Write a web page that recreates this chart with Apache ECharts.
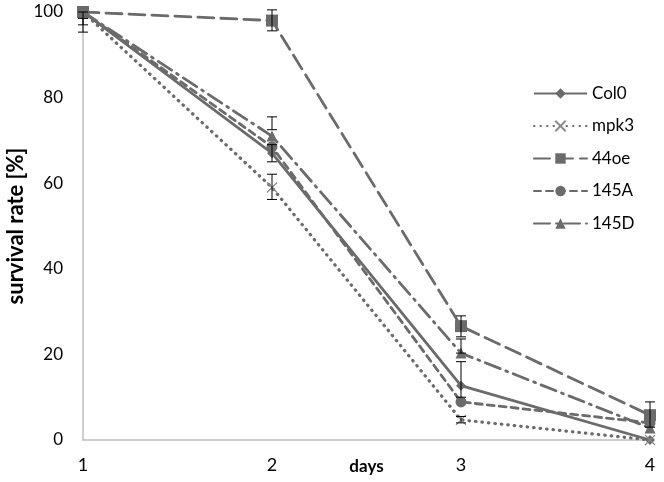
<!DOCTYPE html>
<html>
<head>
<meta charset="utf-8">
<script src="https://cdn.jsdelivr.net/npm/echarts@6/dist/echarts.min.js"></script>
<style>
  html, body { margin: 0; padding: 0; background: #fff; }
  #chart { width: 664px; height: 482px; }
</style>
</head>
<body>
<div id="chart"></div>
<script>
const days = [1, 2, 3, 4];
const col0 = [100, 67, 12.7, 0];
const mpk3 = [100, 59, 4.7, 0];
const oe44 = [100, 98, 26.6, 5.8];
const a145 = [100, 68.5, 8.9, 4];
const d145 = [100, 71, 20.3, 2.8];

// error bars: [day, low, high]
const errCol0 = [[1, 95.3, 100], [2, 65, 69], [3, 10, 18.3]];
const errMpk3 = [[1, 97, 98.5], [2, 56.2, 62.1], [3, 4, 5.5]];
const err44oe = [[2, 95.6, 100.5], [3, 24.1, 29], [4, 3, 8.9]];
const err145D = [[2, 72.5, 75.5], [3, 20.3, 23.6]];

const grey = '#6b6b6b';
const font = 'Lato, "Open Sans", sans-serif';

function lineSeries(name, values, symbol, size, dash, extra) {
  return Object.assign({
    name,
    type: 'line',
    data: days.map((d, i) => [d, values[i]]),
    symbol,
    symbolSize: size,
    showSymbol: true,
    lineStyle: { color: grey, width: 2.8, type: dash, cap: dash === 'solid' ? 'butt' : 'round' },
    itemStyle: { color: grey },
    z: 3,
  }, extra || {});
}

function errSeries(data) {
  return {
    type: 'custom',
    data,
    z: 4,
    renderItem(params, api) {
      const lo = api.coord([api.value(0), api.value(1)]);
      const hi = api.coord([api.value(0), api.value(2)]);
      const w = 5;
      const s = { stroke: '#000', lineWidth: 1 };
      return {
        type: 'group',
        children: [
          { type: 'line', shape: { x1: lo[0], y1: lo[1], x2: hi[0], y2: hi[1] }, style: s },
          { type: 'line', shape: { x1: lo[0] - w, y1: lo[1], x2: lo[0] + w, y2: lo[1] }, style: s },
          { type: 'line', shape: { x1: hi[0] - w, y1: hi[1], x2: hi[0] + w, y2: hi[1] }, style: s },
        ],
      };
    },
  };
}

const chart = echarts.init(document.getElementById('chart'));
chart.setOption({
  animation: false,
  backgroundColor: '#fff',
  grid: { left: 83, right: 14, top: 12, bottom: 42, outerBoundsMode: 'none', containLabel: false },
  legend: {
    orient: 'vertical',
    left: 528,
    top: 80,
    itemWidth: 53,
    itemHeight: 13,
    itemGap: 15.5,
    textStyle: { fontFamily: font, fontSize: 17, color: '#000' },
    data: ['Col0', 'mpk3', '44oe', '145A', '145D'],
  },
  xAxis: {
    type: 'value',
    min: 1,
    max: 4,
    interval: 1,
    name: 'days',
    nameLocation: 'middle',
    nameGap: 18,
    nameMoveOverlap: false,
    nameTextStyle: { fontFamily: font, fontSize: 17, fontWeight: 'bold', color: '#000' },
    axisLine: { lineStyle: { color: '#bfbfbf', width: 1.5 } },
    axisTick: { show: false },
    splitLine: { show: false },
    axisLabel: { fontFamily: font, fontSize: 18, color: '#000', margin: 16 },
  },
  yAxis: {
    type: 'value',
    min: 0,
    max: 100,
    interval: 20,
    name: 'survival rate [%]',
    nameLocation: 'middle',
    nameGap: 56,
    nameMoveOverlap: false,
    nameTextStyle: { fontFamily: font, fontSize: 22, fontWeight: 'bold', color: '#000' },
    axisLine: { show: true, lineStyle: { color: '#bfbfbf', width: 1.5 } },
    axisTick: { show: false },
    splitLine: { show: false },
    axisLabel: { fontFamily: font, fontSize: 17, color: '#000', margin: 20 },
  },
  series: [
    lineSeries('Col0', col0, 'diamond', 10, 'solid'),
    lineSeries('mpk3', mpk3, 'path://M0,0L10,10M10,0L0,10', 10, [0.5, 6], {
      lineStyle: { color: grey, width: 3.2, type: [0.5, 6], cap: 'round' },
      itemStyle: { color: 'none', borderColor: '#8a8a8a', borderWidth: 1.2 },
    }),
    lineSeries('44oe', oe44, 'rect', 12, [16, 7]),
    lineSeries('145A', a145, 'circle', 11, [7, 5]),
    lineSeries('145D', d145, 'triangle', 11, [16, 6, 2, 6]),
    errSeries(errCol0),
    errSeries(errMpk3),
    errSeries(err44oe),
    errSeries(err145D),
  ],
});
</script>
</body>
</html>
